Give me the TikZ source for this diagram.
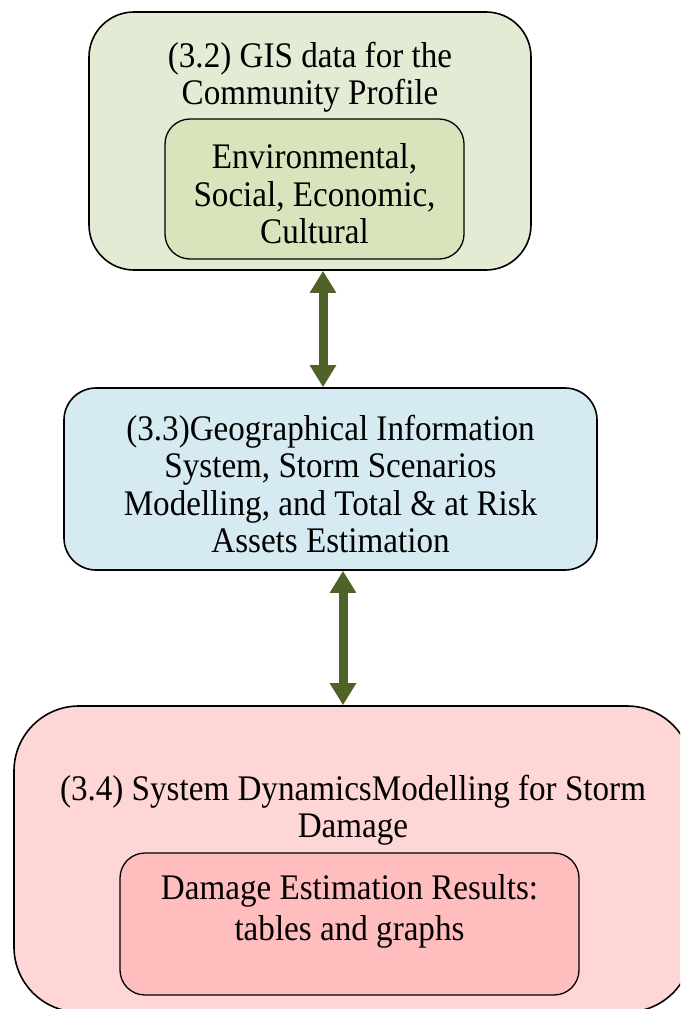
\documentclass[tikz,border=0pt]{standalone}
\usepackage{fontspec}
\setmainfont[FakeStretch=0.92]{Liberation Serif}
\usetikzlibrary{arrows.meta,positioning}

\definecolor{gisOuter}{HTML}{E4EBD5}
\definecolor{gisInner}{HTML}{D8E4BC}
\definecolor{gisBlue}{HTML}{D6EAF1}
\definecolor{sdOuter}{HTML}{FFD6D6}
\definecolor{sdInner}{HTML}{FFBDBD}
\definecolor{linkGreen}{HTML}{4F6228}

\begin{document}
\begin{tikzpicture}[x=1pt,y=-1pt]
    \tikzset{Box/.style={%
        shape=rectangle,%
        draw=black,%
        line width=1.6pt,%
        rounded corners=#1,%
        inner sep=0pt,%
    },
    Box/.default=30pt,
    Label/.style={%
        align=center,%
        inner sep=0pt,%
        font=\fontsize{36}{37.5}\selectfont,%
    },
    Link/.style={%
        draw=linkGreen,%
        line width=9pt,%
        {Triangle[width=25pt,length=22pt]}-{Triangle[width=25pt,length=22pt]},%
    }}

    \useasboundingbox (0,0) rectangle (680,1009);
    \clip (0,0) rectangle (680,1009);

    % (3.2) community profile
    \node[Box=45pt, fill=gisOuter, minimum width=442pt, minimum height=258pt] (gis) at (310,141) {};
    \node[Label] (gisT) at (310,77) {(3.2) GIS data for the\\Community Profile};
    \node[Box=25pt, fill=gisInner, line width=1.3pt, minimum width=299pt, minimum height=140pt] (prof) at (314.5,189) {};
    \node[Label] (profT) at (314.5,194) {Environmental,\\Social, Economic,\\Cultural};

    % (3.3) GIS and scenarios
    \node[Box=32pt, fill=gisBlue, minimum width=533pt, minimum height=182pt] (geo) at (330.5,479) {};
    \node[Label] (geoT) at (330.5,484) {(3.3)Geographical Information\\System, Storm Scenarios\\Modelling, and Total \& at Risk\\Assets Estimation};

    % (3.4) system dynamics
    \node[Box=65pt, fill=sdOuter, minimum width=678pt, minimum height=306pt] (sd) at (353,859) {};
    \node[Label] (sdT) at (353,810) {(3.4) System DynamicsModelling for Storm\\Damage};
    \node[Box=25pt, fill=sdInner, line width=1.3pt, minimum width=459pt, minimum height=142pt] (res) at (349.5,924) {};
    \node[Label, font=\fontsize{36}{41}\selectfont] (resT) at (349.5,911.5) {Damage Estimation Results:\\tables and graphs};

    % two-way links
    \coordinate (l1) at (323,0);
    \coordinate (l2) at (343,0);
    \draw[Link] (gis.south -| l1) -- (geo.north -| l1);
    \draw[Link] (geo.south -| l2) -- (sd.north -| l2);
\end{tikzpicture}
\end{document}
